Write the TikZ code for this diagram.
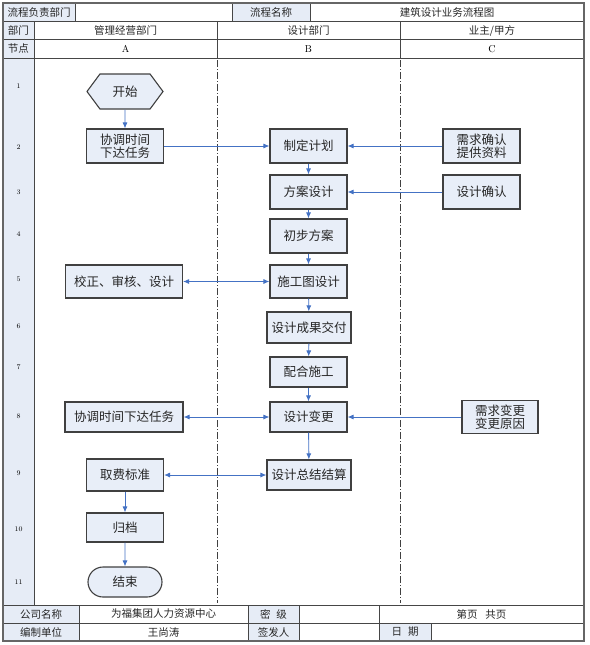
\documentclass[tikz,border=0pt]{standalone}
\usepackage{fontspec}
\usepackage{tikz}
\usetikzlibrary{arrows.meta,shapes.symbols,shapes.misc}
\newfontfamily\cjk{Noto Sans CJK SC}
\definecolor{FlowBlue}{RGB}{68,114,196}
\definecolor{CellFill}{RGB}{230,236,246}
\definecolor{BoxFill}{RGB}{232,238,248}
\definecolor{GridGray}{RGB}{70,70,70}

\begin{document}
\begin{tikzpicture}[x=1pt,y=-1pt,
    every node/.style={align=center,inner sep=1pt},
    cell/.style={font=\cjk\fontsize{10.5}{12}\selectfont,text=black!85},
    grid/.style={draw=GridGray,line width=0.8pt},
    lane/.style={draw=black!75,line width=0.9pt,dash pattern=on 7pt off 2pt on 1pt off 2pt},
    stepbox/.style={draw=black!75,line width=1.1pt,fill=BoxFill,minimum width=77pt,minimum height=34pt,
      font=\cjk\fontsize{12.5}{15}\selectfont,text=black!85},
    startbox/.style={stepbox,signal,signal to=west and east,signal pointer angle=107,minimum width=76pt,minimum height=35pt},
    endbox/.style={stepbox,rounded rectangle,minimum width=76pt,minimum height=30pt},
    flow/.style={draw=FlowBlue,line width=0.9pt,-{Latex[length=6pt,width=5pt]}},
    flowboth/.style={flow,{Latex[length=6pt,width=5pt]}-{Latex[length=6pt,width=5pt]}}]
  \useasboundingbox (0,0) rectangle (589,645);

  % Label cells of the form
  \fill[CellFill] (3,3) rectangle (75,21);
  \fill[CellFill] (232,3) rectangle (310,21);
  \fill[CellFill] (3,21) rectangle (34,605);
  \fill[CellFill] (3,605) rectangle (79,641);
  \fill[CellFill] (248,605) rectangle (299,641);
  \fill[CellFill] (379,623) rectangle (431,641);

  % Grid lines
  \foreach \y in {21,39.5,58,605,623}
    \draw[grid] (3,\y) -- (584,\y);
  \foreach \x in {75,232,310}
    \draw[grid] (\x,3) -- (\x,21);
  \draw[grid] (34,21) -- (34,605);
  \foreach \x in {217,400}
    \draw[grid] (\x,21) -- (\x,58);
  \foreach \x in {79,248,299,379}
    \draw[grid] (\x,605) -- (\x,641);
  \draw[grid] (431,623) -- (431,641);
  \draw[draw=black!60,line width=1.5pt] (3,3) rectangle (584,641);

  % Swim lane separators
  \foreach \x in {217,400}
    \draw[lane] (\x,60) -- (\x,603);

  % Header texts
  \node[cell] (hdOwner) at (39,12) {流程负责部门};
  \node[cell] (hdName) at (271,12) {流程名称};
  \node[cell] (hdTitle) at (447,12) {建筑设计业务流程图};
  \node[cell] (hdDept) at (18.5,30.5) {部门};
  \node[cell] (hdMgmt) at (125.5,30.5) {管理经营部门};
  \node[cell] (hdDesign) at (308.5,30.5) {设计部门};
  \node[cell] (hdClient) at (492,30.5) {业主/甲方};
  \node[cell] (hdNode) at (18.5,49) {节点};
  \foreach \c/\x in {A/125.5,B/308.5,C/492}
    \node[font=\fontsize{10}{12}\selectfont] (col\c) at (\x,49) {\c};

  % Row numbers
  \foreach \n/\y in {1/86,2/147,3/192,4/234,5/279,6/326,7/367,8/416,9/473,10/529,11/582}
    \node[font=\fontsize{7}{8}\selectfont] (row\n) at (18.5,\y) {\n};

  % Footer texts
  \node[cell] (ftCompany) at (41,614) {公司名称};
  \node[cell] (ftCompanyVal) at (163.5,614) {为福集团人力资源中心};
  \node[cell] (ftLevel) at (273.5,614) {密\hspace{6pt}级};
  \node[cell] (ftPage) at (481.5,614) {第页\hspace{8pt}共页};
  \node[cell] (ftUnit) at (41,632) {编制单位};
  \node[cell] (ftUnitVal) at (163.5,632) {王尚涛};
  \node[cell] (ftSigner) at (273.5,632) {签发人};
  \node[cell] (ftDate) at (405,632) {日\hspace{6pt}期};

  % Lane A
  \node[startbox] (start) at (125,91.5) {开始};
  \node[stepbox] (coord) at (125,146) {协调时间\\[-2pt]下达任务};
  \node[stepbox,minimum width=117pt,minimum height=33pt] (review) at (124,281.5) {校正、审核、设计};
  \node[stepbox,minimum width=118pt,minimum height=30pt] (recoord) at (124,417) {协调时间下达任务};
  \node[stepbox,minimum height=32pt] (fee) at (125,475) {取费标准};
  \node[stepbox,minimum height=29pt] (archive) at (125,527.5) {归档};
  \node[endbox] (finish) at (125,582) {结束};

  % Lane B
  \node[stepbox] (plan) at (308.5,146) {制定计划};
  \node[stepbox] (scheme) at (308.5,192) {方案设计};
  \node[stepbox] (prelim) at (308.5,236) {初步方案};
  \node[stepbox,minimum height=33pt] (drawing) at (308.5,281.5) {施工图设计};
  \node[stepbox,minimum width=84pt,minimum height=31pt] (deliver) at (309,327.5) {设计成果交付};
  \node[stepbox,minimum height=30pt] (support) at (308.5,372) {配合施工};
  \node[stepbox,minimum height=30pt] (change) at (308.5,417) {设计变更};
  \node[stepbox,minimum width=84pt,minimum height=30pt] (settle) at (309,475) {设计总结结算};

  % Lane C
  \node[stepbox] (require) at (481.5,146) {需求确认\\[-2pt]提供资料};
  \node[stepbox] (confirm) at (481.5,192) {设计确认};
  \node[stepbox,minimum width=76pt,minimum height=33pt] (reason) at (500,417) {需求变更\\[-2pt]变更原因};

  % Connectors
  \draw[flow] (start) -- (coord);
  \draw[flow] (coord) -- (plan);
  \draw[flow] (require) -- (plan);
  \draw[flow] (confirm) -- (scheme);
  \foreach \a/\b in {plan/scheme,scheme/prelim,prelim/drawing,drawing/deliver,deliver/support,support/change,change/settle}
    \draw[flow] (\a) -- (\b);
  \draw[flowboth] (review) -- (drawing);
  \draw[flowboth] (recoord) -- (change);
  \draw[flow] (reason) -- (change);
  \draw[flowboth] (fee) -- (settle);
  \draw[flow] (fee) -- (archive);
  \draw[flow] (archive) -- (finish);
\end{tikzpicture}
\end{document}
